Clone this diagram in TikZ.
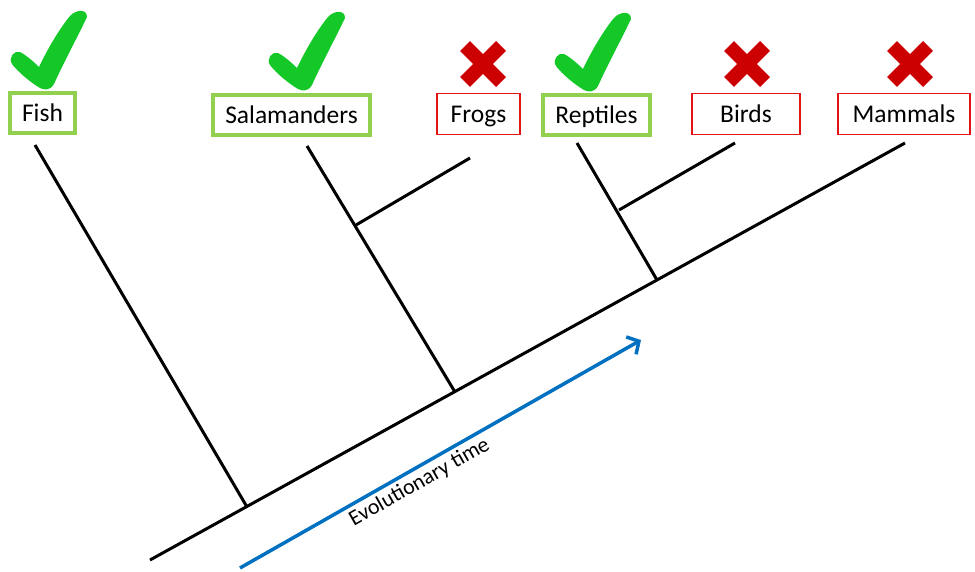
\documentclass[tikz,border=0pt]{standalone}
\usepackage{fontspec}
\setmainfont{Carlito}
\usepackage{xcolor}
\usetikzlibrary{arrows.meta}
\definecolor{okgreen}{RGB}{20,200,40}
\definecolor{boxgreen}{RGB}{146,208,80}
\definecolor{nored}{RGB}{204,0,0}
\definecolor{boxred}{RGB}{228,20,20}
\definecolor{timeblue}{RGB}{0,112,192}

\begin{document}
\begin{tikzpicture}[x=1pt,y=-1pt,
  branch/.style={line width=3pt},
  taxon/.style={inner sep=0pt,text=black,text height=19pt,text depth=2pt,font=\fontsize{25.5}{30}\selectfont},
  goodbox/.style={taxon,draw=boxgreen,line width=4pt,minimum height=40pt},
  badbox/.style={taxon,draw=boxred,line width=1.4pt,minimum height=41pt},
  okmark/.pic={\fill[okgreen] (-2,0) .. controls (-12,-6) and (-24,-16) .. (-30,-24)
      .. controls (-34,-30) and (-28,-38) .. (-22,-36)
      .. controls (-16,-33) and (-8,-26) .. (-3,-21)
      .. controls (6,-40) and (18,-60) .. (28,-72)
      .. controls (33,-78) and (45,-80) .. (45,-71)
      .. controls (36,-52) and (20,-22) .. (12,-4)
      .. controls (8,3) and (2,2) .. (-2,0) -- cycle;},
  nomark/.pic={\draw[nored,line width=14pt] (-18,-18) -- (18,18) (-18,18) -- (18,-18);}]
  \useasboundingbox (0,0) rectangle (975,572);

  \node[goodbox,minimum width=65pt] (fish) at (42.5,113.5) {Fish};
  \node[goodbox,minimum width=157pt] (sal) at (291.5,115) {Salamanders};
  \node[badbox,minimum width=83pt] (frog) at (478.5,114) {Frogs};
  \node[goodbox,minimum width=107pt] (rep) at (596.5,115) {Reptiles};
  \node[badbox,minimum width=108pt] (bird) at (746,114) {Birds};
  \node[badbox,minimum width=132pt] (mam) at (904,114) {Mammals};

  \pic at (42,88) {okmark};
  \pic at (300,89) {okmark};
  \pic at (586,90) {okmark};
  \pic at (483,64) {nomark};
  \pic at (747,64) {nomark};
  \pic at (910,64) {nomark};

  \coordinate (root) at (150,560);
  \coordinate (fishtip) at (35,145);
  \coordinate (saltip) at (307,146);
  \coordinate (frogtip) at (470,158);
  \coordinate (reptip) at (577,143);
  \coordinate (birdtip) at (735,143);
  \coordinate (mamtip) at (905,143);
  \coordinate (nfish) at (247,507);
  \coordinate (nsal) at (455,392);
  \coordinate (nfrog) at (356,225);
  \coordinate (nrep) at (657,280);
  \coordinate (nbird) at (619,210);

  \draw[branch] (root) -- (mamtip);
  \draw[branch] (nfish) -- (fishtip);
  \draw[branch] (nsal) -- (saltip);
  \draw[branch] (nfrog) -- (frogtip);
  \draw[branch] (nrep) -- (reptip);
  \draw[branch] (nbird) -- (birdtip);

  \coordinate (tstart) at (240,568);
  \coordinate (tend) at (641,340);
  \draw[timeblue,line width=3.5pt,-{Straight Barb[length=9pt,width=20pt]}] (tstart) -- (tend)
    node[pos=0.43,sloped,below,text=black,font=\fontsize{22}{26}\selectfont] (time) {Evolutionary time};
\end{tikzpicture}
\end{document}
